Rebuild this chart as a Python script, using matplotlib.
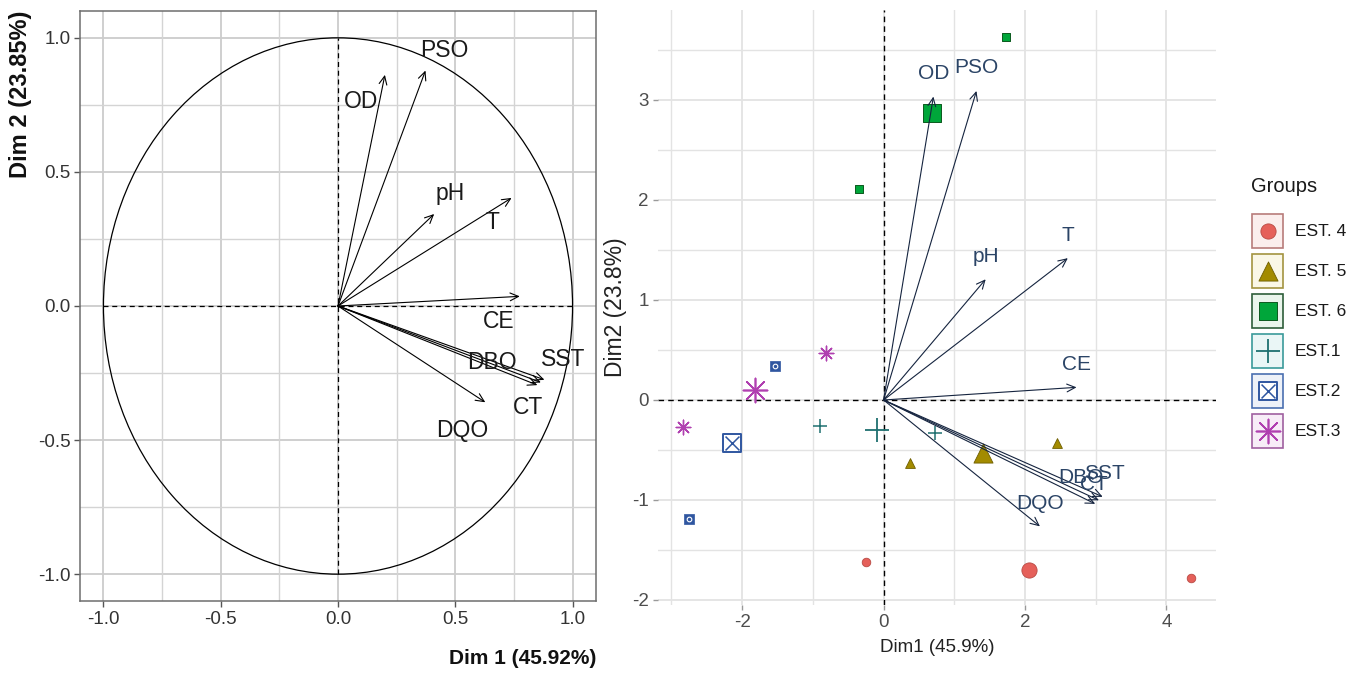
import numpy as np
import matplotlib
matplotlib.use("Agg")
import matplotlib.pyplot as plt
from matplotlib.patches import Circle, Rectangle
from matplotlib import font_manager

plt.rcParams['axes.unicode_minus'] = False
_names = {f.name for f in font_manager.fontManager.ttflist}
if 'Liberation Sans Narrow' in _names:
    plt.rcParams['font.family'] = ['Liberation Sans Narrow', 'Liberation Sans', 'DejaVu Sans']
    K = 1.18
else:
    plt.rcParams['font.family'] = ['Liberation Sans', 'DejaVu Sans']
    K = 1.0
ROT_FONT = ['Liberation Sans', 'DejaVu Sans']

# ---------------- data ----------------
variables = ['OD', 'PSO', 'pH', 'T', 'CE', 'SST', 'DBO', 'CT', 'DQO']
var_dim1 = [0.200, 0.373, 0.410, 0.740, 0.775, 0.880, 0.865, 0.850, 0.628]
var_dim2 = [0.862, 0.878, 0.343, 0.403, 0.036, -0.275, -0.285, -0.295, -0.359]
biplot_scale = 3.52

groups = ['EST. 4', 'EST. 5', 'EST. 6', 'EST.1', 'EST.2', 'EST.3']
ind_group = ['EST. 4', 'EST. 4', 'EST. 5', 'EST. 5', 'EST. 6', 'EST. 6',
             'EST.1', 'EST.1', 'EST.2', 'EST.2', 'EST.3', 'EST.3']
ind_dim1 = [-0.25, 4.35, 0.37, 2.45, 1.73, -0.35, -0.90, 0.72, -1.53, -2.75, -2.83, -0.81]
ind_dim2 = [-1.62, -1.78, -0.63, -0.43, 3.63, 2.11, -0.26, -0.33, 0.34, -1.19, -0.27, 0.47]

x_tick_left = [-1.0, -0.5, 0.0, 0.5, 1.0]
y_tick_left = [-1.0, -0.5, 0.0, 0.5, 1.0]
x_tick_right = [-2, 0, 2, 4]
y_tick_right = [-2, -1, 0, 1, 2, 3]

# ---------------- styles ----------------
colors = {'EST. 4': '#E5605A', 'EST. 5': '#A38B00', 'EST. 6': '#00A63A',
          'EST.1': '#1F7070', 'EST.2': '#2F56A0', 'EST.3': '#B040B0'}
edges = {'EST. 4': '#B84A44', 'EST. 5': '#6E5E00', 'EST. 6': '#0B5A1E',
         'EST.1': '#1F7070', 'EST.2': '#2F56A0', 'EST.3': '#B040B0'}
box_edge = {'EST. 4': '#B87C7A', 'EST. 5': '#A39440', 'EST. 6': '#2E5E3A',
            'EST.1': '#3A9A9A', 'EST.2': '#4A6FB0', 'EST.3': '#A060A0'}
box_fill = {'EST. 4': '#FBEEED', 'EST. 5': '#FAF7E6', 'EST. 6': '#EAF5EC',
            'EST.1': '#EAF6F6', 'EST.2': '#EDF1F8', 'EST.3': '#F7EDF7'}

left_off = {'OD': (-0.10, -0.10), 'PSO': (0.08, 0.075), 'pH': (0.07, 0.075),
            'T': (-0.08, -0.09), 'CE': (-0.09, -0.095), 'SST': (0.08, 0.075),
            'DBO': (-0.21, 0.075), 'CT': (-0.04, -0.085), 'DQO': (-0.10, -0.105)}
right_off = {'DBO': (-0.25, 0.23), 'SST': (0.03, 0.23), 'CT': (-0.02, 0.19)}

W, H = 1360, 673
fig = plt.figure(figsize=(W / 100, H / 100), dpi=100)


def fx(px):
    return px / W


def fy(py):
    return 1 - py / H


# ---------------- left: correlation circle ----------------
axL = fig.add_axes([fx(80), fy(601), fx(596) - fx(80), fy(11) - fy(601)])
axL.set_xlim(-1.1, 1.1)
axL.set_ylim(-1.1, 1.1)
for v in np.arange(-1.0, 1.01, 0.5):
    axL.axvline(v, color='#CCCCCC', lw=1.3, zorder=0)
    axL.axhline(v, color='#CCCCCC', lw=1.3, zorder=0)
for v in [-0.75, -0.25, 0.25, 0.75]:
    axL.axvline(v, color='#D4D4D4', lw=1.0, zorder=0)
    axL.axhline(v, color='#D4D4D4', lw=1.0, zorder=0)
axL.add_patch(Circle((0, 0), 1.0, fill=False, lw=0.9, color='black', zorder=2))
axL.plot([-1, 1], [0, 0], ls=(0, (4, 3)), color='black', lw=0.9, zorder=2)
axL.plot([0, 0], [-1, 1], ls=(0, (4, 3)), color='black', lw=0.9, zorder=2)
for name, x, y in zip(variables, var_dim1, var_dim2):
    axL.annotate('', xy=(x, y), xytext=(0, 0),
                 arrowprops=dict(arrowstyle='->,head_length=0.6,head_width=0.28',
                                 lw=0.8, color='black', shrinkA=0, shrinkB=0),
                 zorder=3)
    dx, dy = left_off[name]
    axL.text(x + dx, y + dy, name, fontsize=16.5 * K, ha='center', va='center',
             color='#1A1A1A', zorder=4)
axL.set_xticks(x_tick_left)
axL.set_yticks(y_tick_left)
axL.set_xticklabels([f'{v:.1f}' for v in x_tick_left])
axL.set_yticklabels([f'{v:.1f}' for v in y_tick_left])
axL.tick_params(colors='#555555', labelcolor='#333333', length=4, width=1,
                labelsize=13.5 * K, pad=3)
for s in axL.spines.values():
    s.set_color('#6E6E6E')
    s.set_linewidth(1.1)
fig.text(fx(596), fy(658), 'Dim 1 (45.92%)', fontsize=15 * K, fontweight='bold',
         ha='right', va='center', color='#111111')
fig.text(fx(21), fy(11), 'Dim 2 (23.85%)', fontsize=17, fontweight='bold',
         ha='center', va='top', rotation=90, color='#111111', family=ROT_FONT)

# ---------------- right: biplot ----------------
axR = fig.add_axes([fx(658), fy(605), fx(1216) - fx(658), fy(10) - fy(605)])
axR.set_xlim(-3.19, 4.70)
axR.set_ylim(-2.05, 3.90)
for v in range(-3, 5):
    axR.axvline(v, color='#E3E3E3', lw=1.3 if v % 2 == 0 else 1.0, zorder=0)
for v in np.arange(-2.0, 3.6, 0.5):
    axR.axhline(v, color='#E3E3E3', lw=1.3 if float(v).is_integer() else 1.0, zorder=0)
axR.axhline(0, ls=(0, (4, 3)), color='black', lw=1.0, zorder=1)
axR.axvline(0, ls=(0, (4, 3)), color='black', lw=1.0, zorder=1)
for s in axR.spines.values():
    s.set_visible(False)

ind_x = np.array(ind_dim1)
ind_y = np.array(ind_dim2)
ind_g = np.array(ind_group)


def draw_marker(ax, g, x, y, big, zorder=5):
    c, e = colors[g], edges[g]
    if g == 'EST. 4':
        ax.scatter(x, y, s=120 if big else 38, marker='o', facecolor=c,
                   edgecolor=e, lw=0.6, zorder=zorder)
    elif g == 'EST. 5':
        ax.scatter(x, y, s=190 if big else 50, marker='^', facecolor=c,
                   edgecolor=e, lw=0.6, zorder=zorder)
    elif g == 'EST. 6':
        ax.scatter(x, y, s=150 if big else 40, marker='s', facecolor=c,
                   edgecolor=e, lw=0.7, zorder=zorder)
    elif g == 'EST.1':
        ax.scatter(x, y, s=300 if big else 110, marker='+', color=c,
                   lw=1.3 if big else 1.1, zorder=zorder)
    elif g == 'EST.2':
        if big:
            ax.scatter(x, y, s=170, marker='s', facecolor='white', edgecolor=c,
                       lw=1.4, zorder=zorder)
            ax.scatter(x, y, s=100, marker='x', color=c, lw=1.1, zorder=zorder + 0.1)
        else:
            ax.scatter(x, y, s=45, marker='s', facecolor=c, edgecolor=c,
                       lw=0.5, zorder=zorder)
            ax.scatter(x, y, s=11, marker='o', facecolor=c, edgecolor='white',
                       lw=0.8, zorder=zorder + 0.1)
    elif g == 'EST.3':
        ax.scatter(x, y, s=300 if big else 110, marker=(8, 2, 0), color=c,
                   lw=1.2 if big else 1.0, zorder=zorder)


for g in groups:
    m = ind_g == g
    draw_marker(axR, g, ind_x[m], ind_y[m], big=False)
    draw_marker(axR, g, ind_x[m].mean(), ind_y[m].mean(), big=True, zorder=6)

for name, x, y in zip(variables, var_dim1, var_dim2):
    bx, by = x * biplot_scale, y * biplot_scale
    axR.annotate('', xy=(bx, by), xytext=(0, 0),
                 arrowprops=dict(arrowstyle='->,head_length=0.6,head_width=0.28',
                                 lw=0.8, color='#15243F', shrinkA=0, shrinkB=0),
                 zorder=7)
    dx, dy = right_off.get(name, (0.0, 0.23))
    axR.text(bx + dx, by + dy, name, fontsize=15 * K, ha='center', va='center',
             color='#2B4466', zorder=8)

axR.set_xticks(x_tick_right)
axR.set_yticks(y_tick_right)
axR.tick_params(colors='#999999', labelcolor='#4D4D4D', length=3.5, width=1,
                labelsize=13.5 * K, pad=3)
axR.set_xlabel('Dim1 (45.9%)', fontsize=13.5 * K, color='#222222', labelpad=6)
axR.set_ylabel('Dim2 (23.8%)', fontsize=16.5, color='#222222', labelpad=4,
               family=ROT_FONT)

# ---------------- legend ----------------
axLeg = fig.add_axes([fx(1236), fy(460), fx(1360) - fx(1236), fy(160) - fy(460)])
axLeg.set_xlim(1236, 1360)
axLeg.set_ylim(460, 160)
axLeg.axis('off')
axLeg.text(1251, 187, 'Groups', fontsize=14.5 * K, ha='left', va='center', color='#1A1A1A')
for i, g in enumerate(groups):
    cy = 231 + i * 40
    axLeg.add_patch(Rectangle((1252, cy - 17), 31, 34, facecolor=box_fill[g],
                              edgecolor=box_edge[g], lw=1.2))
    draw_marker(axLeg, g, 1267.5, cy, big=True)
    axLeg.text(1295, cy, g, fontsize=12.5 * K, ha='left', va='center', color='#1A1A1A')

fig.savefig('out.png', dpi=100)
